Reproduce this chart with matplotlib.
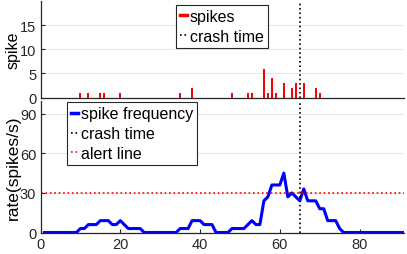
import matplotlib
matplotlib.use("Agg")
import matplotlib.pyplot as plt
import numpy as np

spike_t = [10, 12, 15, 16, 20, 35, 38, 48, 52, 53, 56, 57, 58, 59, 61, 63, 64, 66, 69, 70]
spike_n = [1, 1, 1, 1, 1, 1, 2, 1, 1, 1, 6, 1, 4, 1, 3, 2, 3, 3, 2, 1]

rate_t = list(range(1, 92))
rate_v = ([0]*9 +
          [3, 3, 6, 6, 6, 9, 9, 9, 6, 6, 9, 6, 3, 3, 3, 3] +   # 10-25
          [0]*9 +                                               # 26-34
          [3, 3, 3, 9, 9, 9, 6, 6, 6, 0, 0, 0, 0] +             # 35-47
          [3, 3, 3, 3, 6, 9, 6, 6, 24, 27, 36, 36, 36, 45,      # 48-61
           27, 30, 27, 24, 33, 24, 24, 24, 18, 18, 9, 9, 9, 3] + # 62-75
          [0]*16)                                               # 76-91

crash_time = 65
alert_level = 30

plt.rcParams['font.family'] = ['Liberation Sans', 'DejaVu Sans']

fig = plt.figure(figsize=(4.07, 2.55), dpi=100)
W, H = 407, 255
ax1 = fig.add_axes([40.5/W, 1-98.5/H, 363/W, 96.5/H])
ax2 = fig.add_axes([40.5/W, 1-233.5/H, 363/W, 132/H])

for ax in (ax1, ax2):
    ax.set_xlim(0, 91)
    for s in ('top', 'right'):
        ax.spines[s].set_visible(False)
    ax.tick_params(direction='in', length=3, labelsize=10.5, colors='#262626', pad=3)
    ax.yaxis.grid(True, color='#e6e6e6', lw=0.8)
    ax.set_axisbelow(True)
    for s in ('left', 'bottom'):
        ax.spines[s].set_color('#262626')
        ax.spines[s].set_linewidth(0.9)

ax1.bar(spike_t, spike_n, width=0.5, color='#ff0000', label='spikes')
ax1.axvline(crash_time, color='k', ls=':', lw=1.2, label='crash time')
ax1.set_ylim(0, 20)
ax1.set_yticks([0, 5, 10, 15])
ax1.set_xticks([])
ax1.set_ylabel('spike', fontsize=11.5)
ax1.yaxis.set_label_coords(-0.055, 0.5)
h1 = [plt.Line2D([], [], color='#ff0000', lw=2.5), plt.Line2D([], [], color='k', ls=':', lw=1.2)]
leg1 = ax1.legend(h1, ['spikes', 'crash time'], loc='upper center', bbox_to_anchor=(0.5, 0.96),
                  fontsize=11.5, handlelength=0.45, handletextpad=0.15, borderpad=0.25,
                  labelspacing=0.3, borderaxespad=0, fancybox=False, framealpha=1,
                  edgecolor='#262626')
leg1.get_frame().set_linewidth(0.8)

ax2.plot(rate_t, rate_v, color='#0000ff', lw=2.2, label='spike frequency')
ax2.axvline(crash_time, color='k', ls=':', lw=1.2, label='crash time')
ax2.axhline(alert_level, color='#ff0000', ls=':', lw=1.2, label='alert line')
ax2.set_ylim(0, 100)
ax2.set_yticks([0, 30, 60, 90])
ax2.set_xticks([0, 20, 40, 60, 80])
ax2.set_ylabel('rate(spikes/s)', fontsize=12.5)
ax2.yaxis.set_label_coords(-0.055, 0.5)
h2 = [plt.Line2D([], [], color='#0000ff', lw=2.5), plt.Line2D([], [], color='k', ls=':', lw=1.2),
      plt.Line2D([], [], color='#ff0000', ls=':', lw=1.2)]
leg2 = ax2.legend(h2, ['spike frequency', 'crash time', 'alert line'], loc='upper left',
                  bbox_to_anchor=(0.073, 0.985), fontsize=11.5, handlelength=0.45,
                  handletextpad=0.15, borderpad=0.25, labelspacing=0.3, borderaxespad=0,
                  fancybox=False, framealpha=1, edgecolor='#262626')
leg2.get_frame().set_linewidth(0.8)

fig.savefig('out.png', dpi=100)
